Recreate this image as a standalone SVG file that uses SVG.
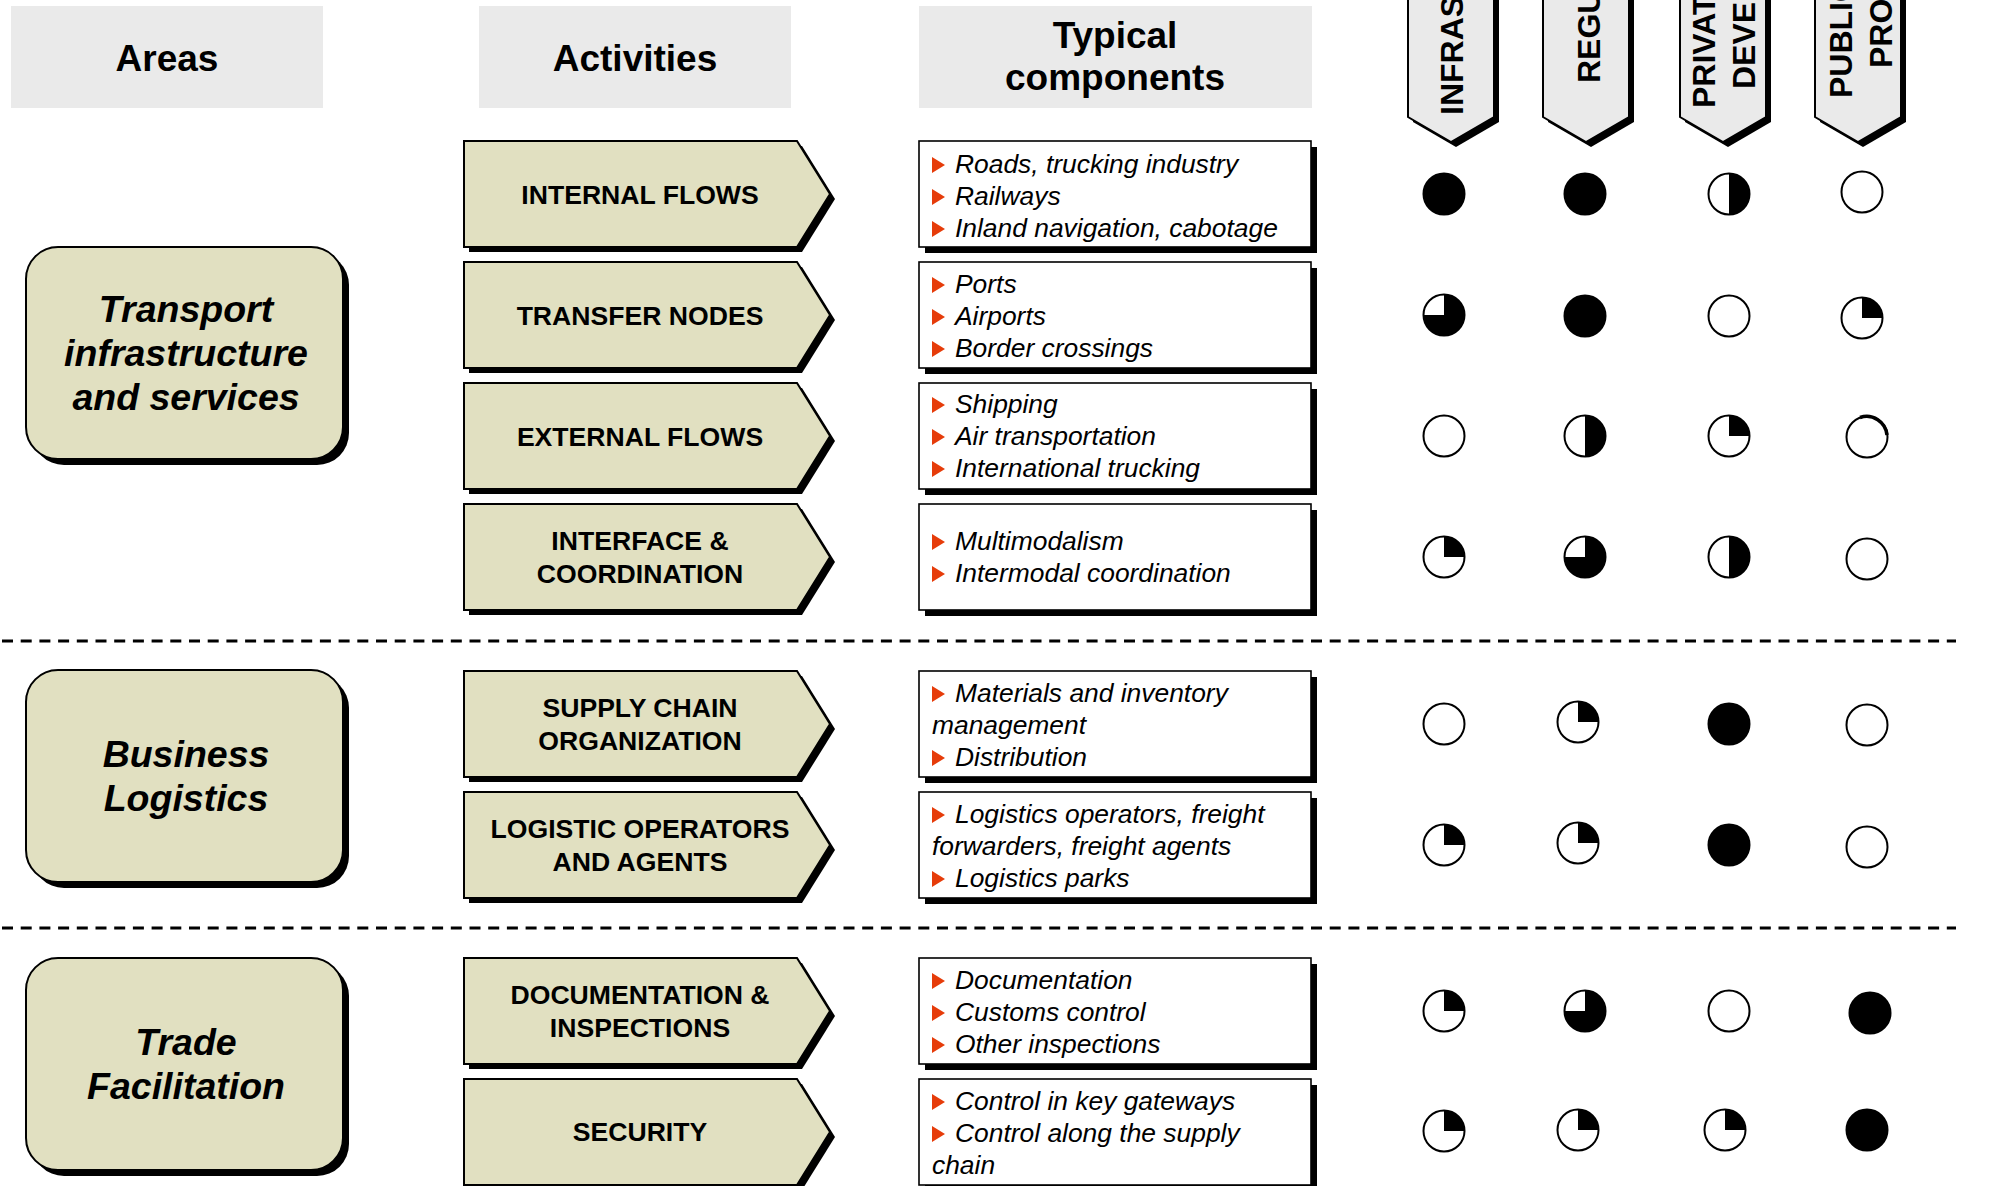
<svg xmlns="http://www.w3.org/2000/svg" xmlns:xlink="http://www.w3.org/1999/xlink" width="1993" height="1186" viewBox="0 0 1993 1186">
<style>
.hdr{fill:#EAEAEA}
.ht{font-family:"Liberation Sans",Arial,sans-serif;font-weight:bold;font-size:37px;text-anchor:middle;fill:#000}
.sh{fill:#000}
.kh{fill:#E1E0C1;stroke:#000;stroke-width:2}
.at{font-family:"Liberation Sans",Arial,sans-serif;font-weight:bold;font-style:italic;font-size:37.5px;text-anchor:middle;fill:#000}
.acts{font-family:"Liberation Sans",Arial,sans-serif;font-weight:bold;font-size:26.6px;text-anchor:middle;fill:#000}
.comp{fill:#fff;stroke:#000;stroke-width:1.6}
.ct{font-family:"Liberation Sans",Arial,sans-serif;font-style:italic;font-size:26.4px;fill:#000}
.bul{fill:#E63C0A}
.col{fill:#EAEAEA;stroke:#000;stroke-width:2}
.colt{font-family:"Liberation Sans",Arial,sans-serif;font-weight:bold;font-size:32px;fill:#000}
.sep{stroke:#000;stroke-width:3;stroke-dasharray:11 7.7;fill:none}
</style>
<defs>
<path id="actShape" d="M0,0 H333 L366,53 L333,106 H0 Z"/>
<rect id="compShape" x="0" y="0" width="392" height="106"/>
<rect id="areaShape" x="0" y="0" width="317" height="212" rx="32" ry="32"/>
<path id="colShape" d="M0,-10 V117 L43,142 L86,117 V-10 Z"/>
<path id="bullet" d="M0,-16 L13,-8 L0,0 Z"/>
<g id="p0"><circle r="20.5" fill="#fff" stroke="#000" stroke-width="2"/></g>
<g id="p25"><circle r="20.5" fill="#fff"/><path d="M0,-20.5A20.5,20.5 0 0 1 20.5,0L0,0Z" fill="#000"/><circle r="20.5" fill="none" stroke="#000" stroke-width="2"/></g>
<g id="p50"><circle r="20.5" fill="#fff"/><path d="M0,-20.5A20.5,20.5 0 0 1 0,20.5Z" fill="#000"/><circle r="20.5" fill="none" stroke="#000" stroke-width="2"/></g>
<g id="p75"><circle r="20.5" fill="#fff"/><path d="M0,-20.5A20.5,20.5 0 1 1 -20.5,0L0,0Z" fill="#000"/><circle r="20.5" fill="none" stroke="#000" stroke-width="2"/></g>
<g id="p100"><circle r="20.5" fill="#000" stroke="#000" stroke-width="2"/></g>
</defs>
<rect width="1993" height="1186" fill="#fff"/>

<!-- Column headers -->
<g id="hdr-areas"><rect class="hdr" x="11" y="6" width="312" height="102"/><text class="ht" x="167" y="71">Areas</text></g>
<g id="hdr-activities"><rect class="hdr" x="479" y="6" width="312" height="102"/><text class="ht" x="635" y="71">Activities</text></g>
<g id="hdr-components"><rect class="hdr" x="919" y="6" width="393" height="102"/><text class="ht" x="1115" y="48">Typical</text><text class="ht" x="1115" y="90">components</text></g>

<g id="col-infra"><use xlink:href="#colShape" class="sh" transform="translate(1413,5)"/><use xlink:href="#colShape" class="col" transform="translate(1408,0)"/><text class="colt" transform="translate(1463,115) rotate(-90)">INFRAS</text></g>
<g id="col-regu"><use xlink:href="#colShape" class="sh" transform="translate(1548,5)"/><use xlink:href="#colShape" class="col" transform="translate(1543,0)"/><text class="colt" transform="translate(1600,83) rotate(-90)">REGU</text></g>
<g id="col-private"><use xlink:href="#colShape" class="sh" transform="translate(1685,5)"/><use xlink:href="#colShape" class="col" transform="translate(1680,0)"/><text class="colt" transform="translate(1715,108) rotate(-90)">PRIVAT</text><text class="colt" transform="translate(1755,89) rotate(-90)">DEVE</text></g>
<g id="col-public"><use xlink:href="#colShape" class="sh" transform="translate(1820,5)"/><use xlink:href="#colShape" class="col" transform="translate(1815,0)"/><text class="colt" transform="translate(1852,98) rotate(-90)">PUBLIC</text><text class="colt" transform="translate(1892,68) rotate(-90)">PRO</text></g>

<!-- Areas -->
<g id="area-transport"><use xlink:href="#areaShape" class="sh" transform="translate(32,253)"/><use xlink:href="#areaShape" class="kh" transform="translate(26,247)"/>
<text class="at" x="186" y="322">Transport</text><text class="at" x="186" y="366">infrastructure</text><text class="at" x="186" y="410">and services</text></g>
<g id="area-business"><use xlink:href="#areaShape" class="sh" transform="translate(32,676)"/><use xlink:href="#areaShape" class="kh" transform="translate(26,670)"/>
<text class="at" x="186" y="767">Business</text><text class="at" x="186" y="811">Logistics</text></g>
<g id="area-trade"><use xlink:href="#areaShape" class="sh" transform="translate(32,964)"/><use xlink:href="#areaShape" class="kh" transform="translate(26,958)"/>
<text class="at" x="186" y="1055">Trade</text><text class="at" x="186" y="1099">Facilitation</text></g>

<!-- Activities -->
<g id="act-internal"><use xlink:href="#actShape" class="sh" transform="translate(469,146)"/><use xlink:href="#actShape" class="kh" transform="translate(464,141)"/><text class="acts" x="640" y="204">INTERNAL FLOWS</text></g>
<g id="act-transfer"><use xlink:href="#actShape" class="sh" transform="translate(469,267)"/><use xlink:href="#actShape" class="kh" transform="translate(464,262)"/><text class="acts" x="640" y="325">TRANSFER NODES</text></g>
<g id="act-external"><use xlink:href="#actShape" class="sh" transform="translate(469,388)"/><use xlink:href="#actShape" class="kh" transform="translate(464,383)"/><text class="acts" x="640" y="446">EXTERNAL FLOWS</text></g>
<g id="act-interface"><use xlink:href="#actShape" class="sh" transform="translate(469,509)"/><use xlink:href="#actShape" class="kh" transform="translate(464,504)"/><text class="acts" x="640" y="550">INTERFACE &amp;</text><text class="acts" x="640" y="583">COORDINATION</text></g>
<g id="act-supply"><use xlink:href="#actShape" class="sh" transform="translate(469,676)"/><use xlink:href="#actShape" class="kh" transform="translate(464,671)"/><text class="acts" x="640" y="717">SUPPLY CHAIN</text><text class="acts" x="640" y="750">ORGANIZATION</text></g>
<g id="act-operators"><use xlink:href="#actShape" class="sh" transform="translate(469,797)"/><use xlink:href="#actShape" class="kh" transform="translate(464,792)"/><text class="acts" x="640" y="838">LOGISTIC OPERATORS</text><text class="acts" x="640" y="871">AND AGENTS</text></g>
<g id="act-documentation"><use xlink:href="#actShape" class="sh" transform="translate(469,963)"/><use xlink:href="#actShape" class="kh" transform="translate(464,958)"/><text class="acts" x="640" y="1004">DOCUMENTATION &amp;</text><text class="acts" x="640" y="1037">INSPECTIONS</text></g>
<g id="act-security"><use xlink:href="#actShape" class="sh" transform="translate(469,1084)"/><use xlink:href="#actShape" class="kh" transform="translate(464,1079)"/><text class="acts" x="640" y="1141">SECURITY</text></g>

<!-- Components -->
<g id="comp-internal"><use xlink:href="#compShape" class="sh" transform="translate(925,147)"/><use xlink:href="#compShape" class="comp" transform="translate(919,141)"/>
<use xlink:href="#bullet" class="bul" x="932" y="173"/><text class="ct" x="955" y="173">Roads, trucking industry</text>
<use xlink:href="#bullet" class="bul" x="932" y="205"/><text class="ct" x="955" y="205">Railways</text>
<use xlink:href="#bullet" class="bul" x="932" y="237"/><text class="ct" x="955" y="237">Inland navigation, cabotage</text></g>
<g id="comp-transfer"><use xlink:href="#compShape" class="sh" transform="translate(925,268)"/><use xlink:href="#compShape" class="comp" transform="translate(919,262)"/>
<use xlink:href="#bullet" class="bul" x="932" y="293"/><text class="ct" x="955" y="293">Ports</text>
<use xlink:href="#bullet" class="bul" x="932" y="325"/><text class="ct" x="955" y="325">Airports</text>
<use xlink:href="#bullet" class="bul" x="932" y="357"/><text class="ct" x="955" y="357">Border crossings</text></g>
<g id="comp-external"><use xlink:href="#compShape" class="sh" transform="translate(925,389)"/><use xlink:href="#compShape" class="comp" transform="translate(919,383)"/>
<use xlink:href="#bullet" class="bul" x="932" y="413"/><text class="ct" x="955" y="413">Shipping</text>
<use xlink:href="#bullet" class="bul" x="932" y="445"/><text class="ct" x="955" y="445">Air transportation</text>
<use xlink:href="#bullet" class="bul" x="932" y="477"/><text class="ct" x="955" y="477">International trucking</text></g>
<g id="comp-interface"><use xlink:href="#compShape" class="sh" transform="translate(925,510)"/><use xlink:href="#compShape" class="comp" transform="translate(919,504)"/>
<use xlink:href="#bullet" class="bul" x="932" y="550"/><text class="ct" x="955" y="550">Multimodalism</text>
<use xlink:href="#bullet" class="bul" x="932" y="582"/><text class="ct" x="955" y="582">Intermodal coordination</text></g>
<g id="comp-supply"><use xlink:href="#compShape" class="sh" transform="translate(925,677)"/><use xlink:href="#compShape" class="comp" transform="translate(919,671)"/>
<use xlink:href="#bullet" class="bul" x="932" y="702"/><text class="ct" x="955" y="702">Materials and inventory</text>
<text class="ct" x="932" y="734">management</text>
<use xlink:href="#bullet" class="bul" x="932" y="766"/><text class="ct" x="955" y="766">Distribution</text></g>
<g id="comp-operators"><use xlink:href="#compShape" class="sh" transform="translate(925,798)"/><use xlink:href="#compShape" class="comp" transform="translate(919,792)"/>
<use xlink:href="#bullet" class="bul" x="932" y="823"/><text class="ct" x="955" y="823">Logistics operators, freight</text>
<text class="ct" x="932" y="855">forwarders, freight agents</text>
<use xlink:href="#bullet" class="bul" x="932" y="887"/><text class="ct" x="955" y="887">Logistics parks</text></g>
<g id="comp-documentation"><use xlink:href="#compShape" class="sh" transform="translate(925,964)"/><use xlink:href="#compShape" class="comp" transform="translate(919,958)"/>
<use xlink:href="#bullet" class="bul" x="932" y="989"/><text class="ct" x="955" y="989">Documentation</text>
<use xlink:href="#bullet" class="bul" x="932" y="1021"/><text class="ct" x="955" y="1021">Customs control</text>
<use xlink:href="#bullet" class="bul" x="932" y="1053"/><text class="ct" x="955" y="1053">Other inspections</text></g>
<g id="comp-security"><use xlink:href="#compShape" class="sh" transform="translate(925,1085)"/><use xlink:href="#compShape" class="comp" transform="translate(919,1079)"/>
<use xlink:href="#bullet" class="bul" x="932" y="1110"/><text class="ct" x="955" y="1110">Control in key gateways</text>
<use xlink:href="#bullet" class="bul" x="932" y="1142"/><text class="ct" x="955" y="1142">Control along the supply</text>
<text class="ct" x="932" y="1174">chain</text></g>

<!-- Rating circles -->
<g id="ratings">
<use xlink:href="#p100" x="1444" y="194"/><use xlink:href="#p100" x="1585" y="194"/><use xlink:href="#p50" x="1729" y="194"/><use xlink:href="#p0" x="1862" y="192"/>
<use xlink:href="#p75" x="1444" y="315"/><use xlink:href="#p100" x="1585" y="316"/><use xlink:href="#p0" x="1729" y="316"/><use xlink:href="#p25" x="1862" y="318"/>
<use xlink:href="#p0" x="1444" y="436"/><use xlink:href="#p50" x="1585" y="436"/><use xlink:href="#p25" x="1729" y="436"/><use xlink:href="#p0" x="1867" y="437"/>
<path d="M1860,417.5 A20.5,20.5 0 0 1 1887,435" fill="none" stroke="#000" stroke-width="3.5"/>
<use xlink:href="#p25" x="1444" y="557"/><use xlink:href="#p75" x="1585" y="557"/><use xlink:href="#p50" x="1729" y="557"/><use xlink:href="#p0" x="1867" y="559"/>
<use xlink:href="#p0" x="1444" y="724"/><use xlink:href="#p25" x="1578" y="722"/><use xlink:href="#p100" x="1729" y="724"/><use xlink:href="#p0" x="1867" y="725"/>
<use xlink:href="#p25" x="1444" y="845"/><use xlink:href="#p25" x="1578" y="843"/><use xlink:href="#p100" x="1729" y="845"/><use xlink:href="#p0" x="1867" y="847"/>
<use xlink:href="#p25" x="1444" y="1011"/><use xlink:href="#p75" x="1585" y="1011"/><use xlink:href="#p0" x="1729" y="1011"/><use xlink:href="#p100" x="1870" y="1013"/>
<use xlink:href="#p25" x="1444" y="1131"/><use xlink:href="#p25" x="1578" y="1130"/><use xlink:href="#p25" x="1725" y="1130"/><use xlink:href="#p100" x="1867" y="1130"/>
</g>

<!-- Separators (no connectors in this diagram) -->
<g id="connectors">
<line class="sep" x1="2" y1="641" x2="1956" y2="641"/>
<line class="sep" x1="2" y1="928" x2="1956" y2="928"/>
</g>
</svg>
